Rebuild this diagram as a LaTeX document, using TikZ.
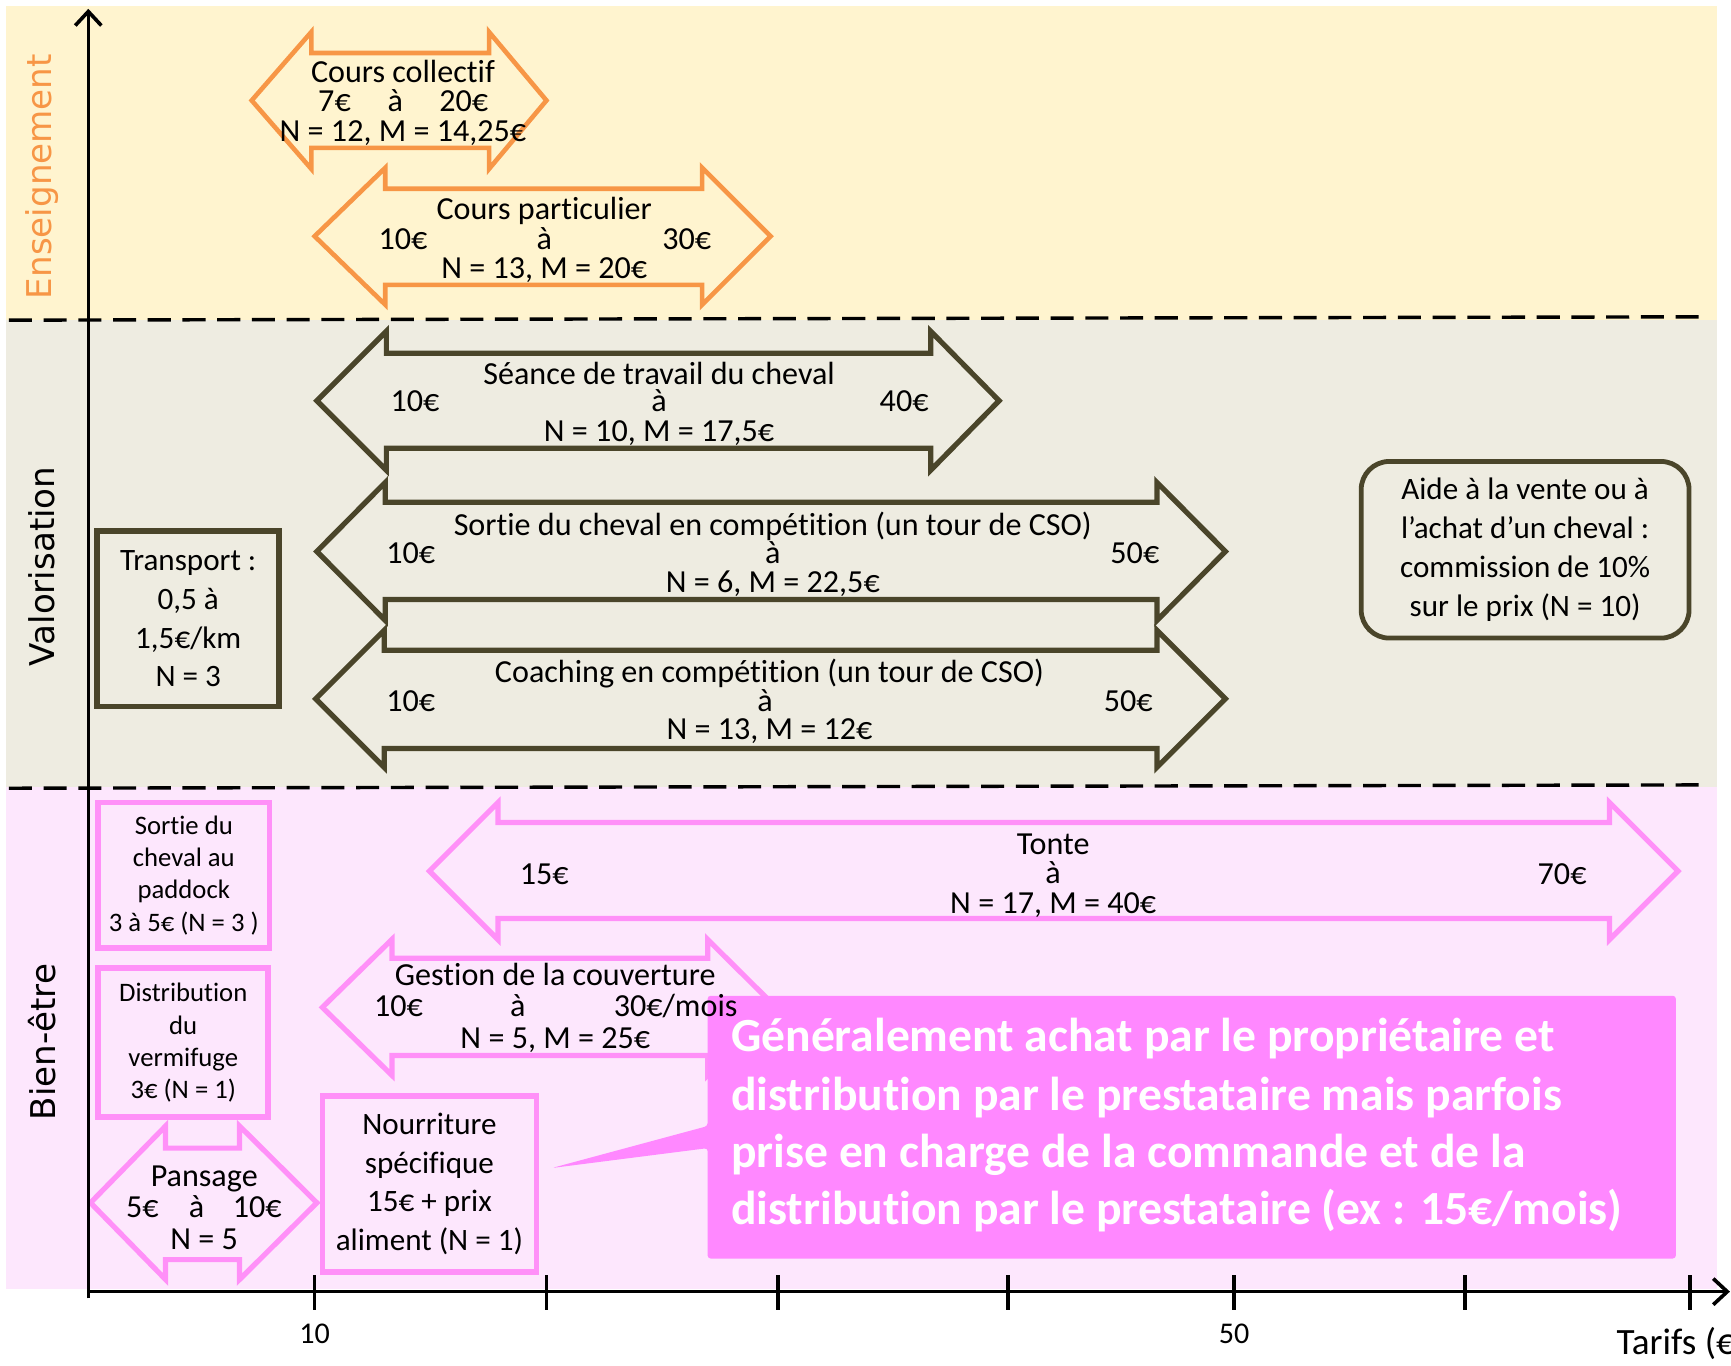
\documentclass[tikz,border=0pt]{standalone}
\usepackage{fontspec}
\setmainfont{Carlito}[Ligatures=NoCommon]
\newfontfamily\bandfont{DejaVu Sans}
\usetikzlibrary{arrows.meta}
\definecolor{bandY}{HTML}{FFF4CF}
\definecolor{bandG}{HTML}{EEECE1}
\definecolor{bandP}{HTML}{FDE7FD}
\definecolor{orangeA}{HTML}{F79646}
\definecolor{oliveA}{HTML}{4A452A}
\definecolor{pinkA}{HTML}{FF90F8}
\definecolor{pinkF}{HTML}{FF88FF}
\newcommand\blockarr[9][]{%
  \draw[#1] (#2,{(#6+#9)/2}) -- (#3,#6) -- (#3,#7) -- (#4,#7) -- (#4,#6) -- (#5,{(#6+#9)/2})
   -- (#4,#9) -- (#4,#8) -- (#3,#8) -- (#3,#9) -- cycle;}
\tikzset{
  arrO/.style={draw=orangeA, line width=2.3pt, line join=miter},
  arrV/.style={draw=oliveA, line width=2.6pt, line join=miter},
  arrP/.style={draw=pinkA, line width=2.6pt, line join=miter},
  lbl/.style={font=\fontsize{16}{14.6}\selectfont, inner sep=0pt, anchor=mid, yshift=-2.6pt},
  boxV/.style={draw=oliveA, line width=2.8pt, align=center, inner sep=0pt,
    font=\fontsize{15.5}{19.3}\selectfont},
  boxP/.style={draw=pinkA, line width=2.8pt, align=center, inner sep=0pt,
    font=\fontsize{13.3}{16}\selectfont},
  calltxt/.style={font=\fontsize{23.7}{28.6}\selectfont\bfseries, text=white, inner sep=0pt, anchor=mid west, yshift=-4.5pt},
  bandlbl/.style={font=\bandfont\fontsize{17}{20}\selectfont, rotate=90, inner sep=0pt},
  sepline/.style={line width=1.7pt, dash pattern=on 11.5pt off 5.8pt},
  axisln/.style={line width=1.8pt},
  ticklbl/.style={font=\fontsize{15}{18}\selectfont, inner sep=0pt, anchor=mid, yshift=-2.6pt}
}
\begin{document}
\begin{tikzpicture}[x=0.55pt,y=-0.55pt]
\useasboundingbox (0,0) rectangle (1568,1237);
% bands
\fill[bandY] (5,5) rectangle (1555,290);
\fill[bandG] (5,290) rectangle (1555,713);
\fill[bandP] (5,713) rectangle (1555,1168);
\coordinate (s1a) at (8,290); \coordinate (s1b) at (1540,287);
\coordinate (s2a) at (8,714); \coordinate (s2b) at (1540,711);
\draw[sepline] (s1a) -- (s1b);
\draw[sepline] (s2a) -- (s2b);
% band labels
\node[bandlbl, text=orangeA] (ens) at (38,160) {Enseignement};
\node[bandlbl] (valo) at (38,513) {Valorisation};
\node[bandlbl] (bien) at (38,944) {Bien-être};
% Enseignement
\blockarr[arrO]{228}{282}{443}{495}{29}{48}{134}{153}
\node[lbl] (cc1) at (365,66) {Cours collectif};
\node[lbl] (cc2) at (303,92) {7€};
\node[lbl] (cc3) at (358,92) {à};
\node[lbl] (cc4) at (420,92) {20€};
\node[lbl] (cc5) at (365,119) {N = 12, M = 14,25€};
\blockarr[arrO]{285}{349}{636}{698}{152}{171}{258}{276}
\node[lbl] (cp1) at (493,190) {Cours particulier};
\node[lbl] (cp2) at (365,217) {10€};
\node[lbl] (cp3) at (493,217) {à};
\node[lbl] (cp4) at (622,217) {30€};
\node[lbl] (cp5) at (493,243) {N = 13, M = 20€};
% Valorisation
\blockarr[arrV]{287}{350}{843}{905}{300}{320}{406}{426}
\node[lbl] (st1) at (597,339) {Séance de travail du cheval};
\node[lbl] (st2) at (376,364) {10€};
\node[lbl] (st3) at (597,364) {à};
\node[lbl] (st4) at (819,364) {40€};
\node[lbl] (st5) at (597,391) {N = 10, M = 17,5€};
\blockarr[arrV]{287}{349}{1048}{1110}{437}{455}{543}{562}
\node[lbl] (sc1) at (700,476) {Sortie du cheval en compétition (un tour de CSO)};
\node[lbl] (sc2) at (372,501) {10€};
\node[lbl] (sc3) at (700,501) {à};
\node[lbl] (sc4) at (1028,501) {50€};
\node[lbl] (sc5) at (700,528) {N = 6, M = 22,5€};
\blockarr[arrV]{286}{348}{1048}{1110}{571}{589}{678}{695}
\node[lbl] (co1) at (697,609) {Coaching en compétition (un tour de CSO)};
\node[lbl] (co2) at (372,635) {10€};
\node[lbl] (co3) at (693,635) {à};
\node[lbl] (co4) at (1022,635) {50€};
\node[lbl] (co5) at (697,661) {N = 13, M = 12€};
\node[boxV, minimum width=90.75pt, minimum height=87.45pt] (transport) at (170.5,560.5)
  {Transport :\\0,5 à\\1,5€/km\\N = 3};
\node[boxV, rounded corners=14pt, line width=2.4pt, minimum width=163.35pt, minimum height=88pt] (aide) at (1381.5,498)
  {Aide à la vente ou à\\l’achat d’un cheval :\\commission de 10\%\\sur le prix (N = 10)};
% Bien-etre
\blockarr[arrP]{389}{451}{1458}{1520}{727}{745}{832}{851}
\node[lbl] (to1) at (954,765) {Tonte};
\node[lbl] (to2) at (493,792) {15€};
\node[lbl] (to3) at (954,791) {à};
\node[lbl] (to4) at (1415,792) {70€};
\node[lbl] (to5) at (954,818) {N = 17, M = 40€};
\blockarr[arrP]{292}{355}{641}{703}{851}{868}{956}{974}
\blockarr[arrP]{82}{150}{217}{287}{1020}{1040}{1141}{1159}
\node[lbl] (pa1) at (185,1066) {Pansage};
\node[lbl] (pa2) at (129,1094) {5€};
\node[lbl] (pa3) at (178,1094) {à};
\node[lbl] (pa4) at (233,1094) {10€};
\node[lbl] (pa5) at (185,1123) {N = 5};
\node[boxP, minimum width=85.25pt, minimum height=72.6pt] (paddock) at (166.5,793)
  {Sortie du\\cheval au\\paddock\\3 à 5€ (N = 3 )};
\node[boxP, minimum width=84.7pt, minimum height=74.25pt] (vermi) at (166,944.5)
  {Distribution\\du\\vermifuge\\3€ (N = 1)};
\node[boxP, font=\fontsize{15.5}{19.3}\selectfont, minimum width=106.7pt, minimum height=87.45pt] (nour) at (389,1072.5)
  {Nourriture\\spécifique\\15€ + prix\\aliment (N = 1)};
% callout
\coordinate (ctip) at (500,1058);
\fill[pinkF, rounded corners=1.5pt] (641,902) -- (1518,902) -- (1518,1140) -- (641,1140) -- (641,1040) -- (ctip) -- (641,1020) -- cycle;
\node[calltxt] (cl1) at (662,940) {Généralement achat par le propriétaire et};
\node[calltxt] (cl2) at (662,993) {distribution par le prestataire mais parfois};
\node[calltxt] (cl3) at (662,1045) {prise en charge de la commande et de la};
\node[calltxt] (cl4) at (662,1097) {distribution par le prestataire (ex : 15€/mois)};
\node[lbl] (gc1) at (503,884) {Gestion de la couverture};
\node[lbl] (gc2) at (361,912) {10€};
\node[lbl] (gc3) at (469,912) {à};
\node[lbl] (gc4) at (612,912) {30€/mois};
\node[lbl] (gc5) at (503,941) {N = 5, M = 25€};
% axes
\coordinate (O) at (80,1170);
\coordinate (ybot) at (80,1176);
\coordinate (ytop) at (80,8);
\coordinate (xend) at (1567,1170);
\draw[axisln, -{Straight Barb[length=7pt,width=13pt,line width=1.8pt]}] (ybot) -- (ytop);
\draw[axisln, -{Straight Barb[length=7pt,width=13pt,line width=1.8pt]}] (O) -- (xend);
\foreach \tx in {285,495,705,913,1118,1327,1531}
  \draw[axisln] (\tx,1155) -- (\tx,1187);
\node[ticklbl] (t10) at (285,1208) {10};
\node[ticklbl] (t50) at (1118,1208) {50};
\node[ticklbl, font=\fontsize{18.5}{21}\selectfont, anchor=mid west] (tarifs) at (1464,1218) {Tarifs (€)};
\end{tikzpicture}
\end{document}
